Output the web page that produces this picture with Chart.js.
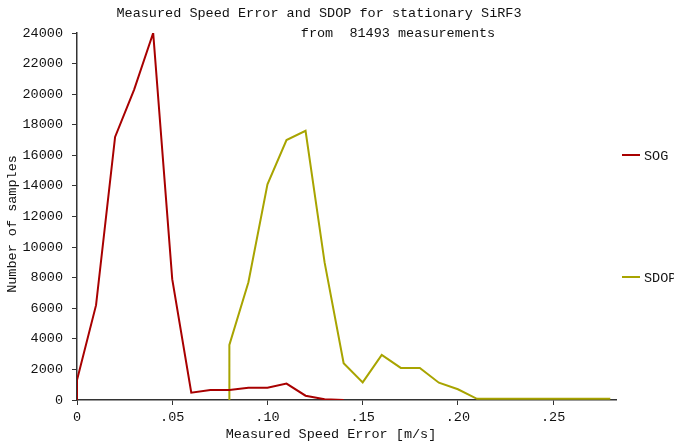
<!DOCTYPE html>
<html>
<head>
<meta charset="utf-8">
<script src="https://cdn.jsdelivr.net/npm/chart.js@4/dist/chart.umd.min.js"></script>
<style>
  body { margin: 0; background: #fff; }
  #wrap { width: 674px; height: 447px; }
</style>
</head>
<body>
<div id="wrap"><canvas id="myChart" width="674" height="447"></canvas></div>
<script>
'use strict';
// values
const sogX = [0, 0, 0.01, 0.02, 0.03, 0.04, 0.05, 0.06, 0.07, 0.08, 0.09, 0.10, 0.11, 0.12, 0.13, 0.14];
const sogY = [0, 1300, 6200, 17200, 20300, 24000, 7900, 480, 650, 650, 800, 800, 1070, 280, 50, 0];
const sdopX = [0.08, 0.08, 0.09, 0.10, 0.11, 0.12, 0.13, 0.14, 0.15, 0.16, 0.17, 0.18, 0.19, 0.20, 0.21, 0.22, 0.23, 0.24, 0.25, 0.26, 0.27, 0.28];
const sdopY = [0, 3600, 7700, 14100, 17000, 17600, 9000, 2400, 1150, 2950, 2100, 2100, 1130, 700, 80, 80, 80, 80, 80, 80, 80, 80];
const xTicks = [0, 0.05, 0.10, 0.15, 0.20, 0.25];
const xTickLabels = ['0', '.05', '.10', '.15', '.20', '.25'];
const yTicks = [0, 2000, 4000, 6000, 8000, 10000, 12000, 14000, 16000, 18000, 20000, 22000, 24000];

const FONT = '"Liberation Mono", "DejaVu Sans Mono", monospace';
const colors = { sog: '#a80000', sdop: '#a8a400', axis: '#333', text: '#111' };

function toPoints(xs, ys) {
  return xs.map((x, i) => ({ x: x, y: ys[i] }));
}

const textPlugin = {
  id: 'texts',
  afterDraw(chart) {
    const ctx = chart.ctx;
    ctx.save();
    ctx.fillStyle = colors.text;
    ctx.font = '13.5px ' + FONT;
    ctx.textBaseline = 'middle';
    ctx.textAlign = 'center';
    ctx.fillText('Measured Speed Error and SDOP for stationary SiRF3', 319, 13);
    ctx.fillText('from  81493 measurements', 398, 33);
    ctx.fillText('Measured Speed Error [m/s]', 331, 434);
    ctx.save();
    ctx.translate(12, 224);
    ctx.rotate(-Math.PI / 2);
    ctx.fillText('Number of samples', 0, 0);
    ctx.restore();
    // legend, one entry per dataset
    const legendY = [155, 277];
    chart.data.datasets.forEach(function(ds, i) {
      ctx.strokeStyle = ds.borderColor;
      ctx.lineWidth = 2;
      ctx.beginPath();
      ctx.moveTo(622, legendY[i]);
      ctx.lineTo(640, legendY[i]);
      ctx.stroke();
      ctx.textAlign = 'left';
      ctx.fillText(ds.label, 644, legendY[i] + 1);
    });
    ctx.restore();
  }
};

const ctx = document.getElementById('myChart').getContext('2d');
const myChart = new Chart(ctx, {
  type: 'line',
  data: {
    datasets: [
      {
        label: 'SOG',
        data: toPoints(sogX, sogY),
        borderColor: colors.sog,
        borderWidth: 2,
        pointRadius: 0,
        fill: false,
        tension: 0
      },
      {
        label: 'SDOP',
        data: toPoints(sdopX, sdopY),
        borderColor: colors.sdop,
        borderWidth: 2,
        pointRadius: 0,
        fill: false,
        tension: 0
      }
    ]
  },
  options: {
    responsive: false,
    animation: false,
    layout: { padding: { top: 33, right: 58, left: 0, bottom: 0 } },
    plugins: {
      legend: { display: false },
      tooltip: { enabled: false }
    },
    scales: {
      x: {
        type: 'linear',
        min: 0,
        max: 0.283,
        afterBuildTicks: function(scale) {
          scale.ticks = xTicks.map(v => ({ value: v }));
        },
        afterFit: function(scale) { scale.height = 47; },
        ticks: {
          color: colors.text,
          font: { family: FONT, size: 13.5 },
          padding: 4,
          maxRotation: 0,
          callback: function(value) {
            const i = xTicks.indexOf(value);
            return i >= 0 ? xTickLabels[i] : '';
          }
        },
        grid: { drawOnChartArea: false, drawTicks: true, tickLength: 5, tickColor: colors.axis },
        border: { color: colors.axis, width: 1.5 }
      },
      y: {
        type: 'linear',
        min: 0,
        max: 24000,
        afterBuildTicks: function(scale) {
          scale.ticks = yTicks.map(v => ({ value: v }));
        },
        afterFit: function(scale) { scale.width = 77; },
        ticks: {
          color: colors.text,
          font: { family: FONT, size: 13.5 },
          padding: 9,
          callback: function(value) { return String(value); }
        },
        grid: { drawOnChartArea: false, drawTicks: true, tickLength: 5, tickColor: colors.axis },
        border: { color: colors.axis, width: 1.5 }
      }
    }
  },
  plugins: [textPlugin]
});
</script>
</body>
</html>
